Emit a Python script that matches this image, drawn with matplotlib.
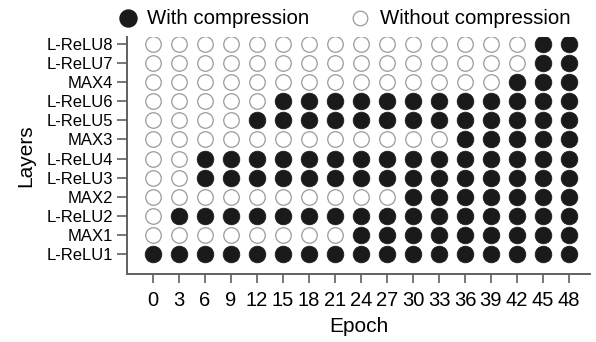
import numpy as np
import matplotlib.pyplot as plt

plt.rcParams['font.family'] = ['Liberation Sans', 'DejaVu Sans']

epochs = [0, 3, 6, 9, 12, 15, 18, 21, 24, 27, 30, 33, 36, 39, 42, 45, 48]
layers = ['L-ReLU1', 'MAX1', 'L-ReLU2', 'MAX2', 'L-ReLU3', 'L-ReLU4',
          'MAX3', 'L-ReLU5', 'L-ReLU6', 'MAX4', 'L-ReLU7', 'L-ReLU8']
# first epoch at which each layer is compressed
start_epoch = [0, 24, 3, 30, 6, 6, 36, 12, 15, 42, 45, 45]

fig = plt.figure(figsize=(5.96, 3.42), dpi=100)
ax = fig.add_axes([127/596, 1 - 274/342, 463/596, 237/342])

xs = np.arange(len(epochs))
for i, s in enumerate(start_epoch):
    on = np.array(epochs) >= s
    ax.scatter(xs[on], [i]*on.sum(), s=145, color='#1a1a1a', edgecolors='#1a1a1a', lw=0.5, zorder=3)
    ax.scatter(xs[~on], [i]*(~on).sum(), s=125, facecolors='white', edgecolors='#9a9a9a', lw=0.9, zorder=3)

ax.set_xlim(-1.0, len(epochs) - 0.19)
ax.set_ylim(-1.05, len(layers) - 0.63)
ax.set_xticks(xs)
ax.set_xticklabels([str(e) for e in epochs], fontsize=14.5)
ax.set_yticks(range(len(layers)))
ax.set_yticklabels(layers, fontsize=12)

for sp in ['top', 'right']:
    ax.spines[sp].set_visible(False)
for sp in ['left', 'bottom']:
    ax.spines[sp].set_color('#606060')
    ax.spines[sp].set_linewidth(1.4)
ax.tick_params(axis='both', color='#606060', width=1.2)
ax.tick_params(axis='y', length=7, pad=3)
ax.tick_params(axis='x', length=6.5, pad=6)

ax.set_xlabel('Epoch', fontsize=15, labelpad=5)
ax.set_ylabel('Layers', fontsize=15)
ax.yaxis.set_label_coords(-0.198, 0.5)

h1 = ax.scatter([], [], s=150, color='#1a1a1a')
h2 = ax.scatter([], [], s=110, facecolors='white', edgecolors='#9a9a9a', lw=0.9)
fig.legend([h1, h2], ['With compression', 'Without compression'], loc='center',
           bbox_to_anchor=(344/596, 1 - 18/342), ncol=2, frameon=False, fontsize=14.7,
           handlelength=1.0, handletextpad=0.45, columnspacing=2.0, scatterpoints=1)

fig.savefig('out.png', dpi=100)
